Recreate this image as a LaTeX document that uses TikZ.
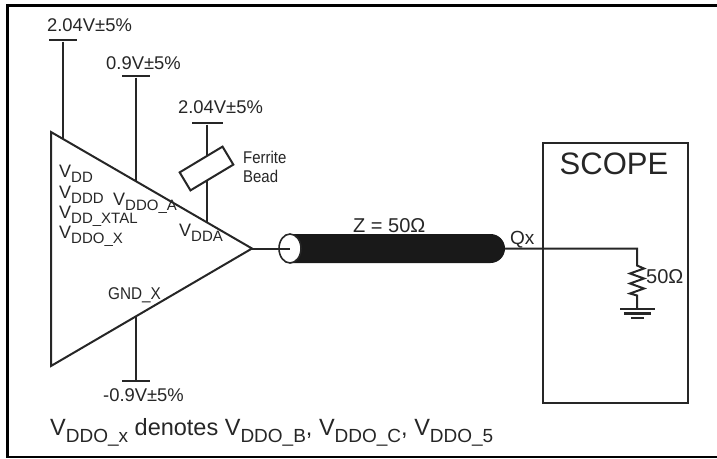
\documentclass[tikz,border=0pt]{standalone}
\usepackage{fontspec}
\setmainfont{Liberation Sans}
\usetikzlibrary{shapes.geometric, shapes.misc, calc}

\newcommand{\vsub}[1]{{\fontsize{18}{18}\selectfont V}\raisebox{-0.3em}{\fontsize{15}{15}\selectfont #1}}
\newcommand{\vsubbig}[1]{V\raisebox{-0.3em}{\fontsize{19}{19}\selectfont #1}}

\tikzset{
  wire/.style = {line width = 2pt, draw = black!85},
  tee/.style = {fill = black!85, inner sep = 0pt, minimum width = 28pt, minimum height = 2.6pt},
  volt/.style = {inner sep = 0pt, text = black!85, font = \fontsize{18.4}{18.4}\selectfont},
  pin/.style = {inner sep = 0pt, anchor = base west, text = black!85, font = \fontsize{17}{17}\selectfont}
}

\begin{document}
\begin{tikzpicture}[x=1pt,y=-1pt]
    \useasboundingbox (0,0) rectangle (717,458);
    % frame, open on the right
    \draw[line width = 3pt] (717,5.5) -- (7.3,5.5) -- (7.3,457);
    \draw[line width = 1.6pt] (6,457) -- (717,457);

    % amplifier
    \coordinate (tl) at (51,132);
    \coordinate (bl) at (51,366);
    \coordinate (apex) at (252,248.5);
    \draw[wire, line join = miter] (tl) -- (apex) -- (bl) -- cycle;

    % supply rails
    \node[tee] (bar1) at (63,40){};
    \node[tee] (bar2) at (136,76){};
    \node[tee, minimum width = 31pt] (bar3) at (207,123){};
    \node[tee] (bar4) at (136,381){};
    \coordinate (on1) at (63,139);
    \coordinate (on2) at (136,181);
    \coordinate (on3) at (207,222);
    \coordinate (on4) at (136,316);
    \draw[wire] (bar1) to (on1);
    \draw[wire] (bar2) to (on2);
    \draw[wire] (bar3) to (on3);
    \draw[wire] (bar4) to (on4);

    \node[volt] (v1) at (89.5,25){2.04V±5\%};
    \node[volt] (v2) at (143.5,63){0.9V±5\%};
    \node[volt] (v3) at (220.5,107){2.04V±5\%};
    \node[volt] (v4) at (143.5,395){-0.9V±5\%};

    % ferrite bead
    \node[
    draw = black!85,
    fill = white,
    line width = 2pt,
    rotate = 31,
    minimum width = 50pt,
    minimum height = 21pt
    ] (bead) at (206.5,168.5){};
    \node[
    inner sep = 0pt,
    anchor = west,
    align = left,
    xscale = 0.88,
    text = black!85,
    font = \fontsize{17}{19}\selectfont
    ] (beadlabel) at (243,167){Ferrite\\Bead};

    % pin names
    \node[pin] (vdd) at (59,177){\vsub{DD}};
    \node[pin] (vddd) at (59,198){\vsub{DDD}};
    \node[pin] (vddxtal) at (59,218){\vsub{DD\_XTAL}};
    \node[pin] (vddox) at (59,238){\vsub{DDO\_X}};
    \node[pin] (vddoa) at (113,205){\vsub{DDO\_A}};
    \node[pin] (vdda) at (179,236){\vsub{DDA}};
    \node[pin, xscale = 0.9] (gnd) at (108,299){GND\_X};

    % cable
    \node[
    rounded rectangle,
    rounded rectangle west arc = none,
    fill = black!90,
    inner sep = 0pt,
    minimum width = 215pt,
    minimum height = 29pt
    ] (cable) at (397.5,248.5){};
    \node[
    ellipse,
    draw = black!85,
    fill = white,
    line width = 1.6pt,
    inner sep = 0pt,
    minimum width = 22pt,
    minimum height = 29pt
    ] (cableend) at (290,248.5){};
    \draw[wire] (apex) to (cableend.center);
    \node[inner sep = 0pt, anchor = base west, text = black!85, font = \fontsize{20}{20}\selectfont] (z) at (353,232){Z = 50Ω};
    \node[inner sep = 0pt, anchor = base west, text = black!85, font = \fontsize{19}{19}\selectfont] (qx) at (510,244){Qx};

    % scope
    \node[
    draw = black!85,
    line width = 2pt,
    inner sep = 0pt,
    minimum width = 145pt,
    minimum height = 260pt
    ] (scope) at (615.5,273){};
    \node[inner sep = 0pt, anchor = base, text = black!85, font = \fontsize{31}{31}\selectfont] (scopelabel) at (614,174){SCOPE};

    % termination
    \coordinate (rtop) at (637,248.5);
    \coordinate (gnd1) at (637,309);
    \draw[wire] (cable.east) to (rtop) -- ($(rtop)+(0,17)$) -- ++(7,3) -- ++(-14,5) -- ++(14,5) -- ++(-14,5) -- ++(14,5) -- ++(-14,5) -- ++(7,2) to (gnd1);
    \node[tee, minimum width = 35pt] (gbar1) at (gnd1){};
    \node[tee, minimum width = 27pt] (gbar2) at ($(gnd1)+(0,4.5)$){};
    \node[tee, minimum width = 13pt] (gbar3) at ($(gnd1)+(0,9)$){};
    \node[inner sep = 0pt, anchor = base west, text = black!85, font = \fontsize{20}{20}\selectfont] (rlabel) at (646,283){50Ω};

    % footnote
    \node[pin, font = \fontsize{23.5}{23.5}\selectfont] (note) at (50,435){\vsubbig{DDO\_x} denotes \vsubbig{DDO\_B}, \vsubbig{DDO\_C}, \vsubbig{DDO\_5}};
  \end{tikzpicture}
\end{document}
